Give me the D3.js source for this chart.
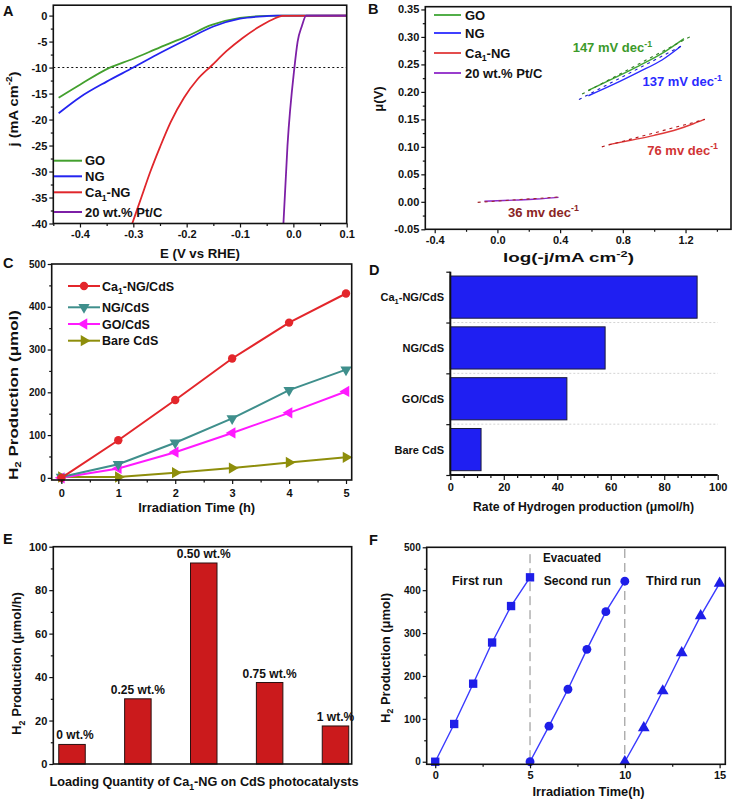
<!DOCTYPE html>
<html><head><meta charset="utf-8">
<script src="https://cdn.jsdelivr.net/npm/d3@7"></script>
<style>
body{margin:0;background:#fff}
svg text{font-family:"Liberation Sans",Arial,Helvetica,sans-serif;}
</style></head><body>
<svg id="fig" width="736" height="800"></svg>
<script>
// ================= DATA =================
// Panel A: polarization curves (E vs RHE, j in mA cm-2)
const lsvNames = ["GO", "NG", "Ca1-NG", "20 wt.% Pt/C"];
const lsvGO_E  = [-0.44, -0.40, -0.346, -0.30, -0.25, -0.20, -0.153, -0.10, -0.05, -0.02, 0.10];
const lsvGO_j  = [-15.8, -13.3, -10.1, -8.3, -6.1, -4.0, -1.8, -0.45, -0.05, 0, 0];
const lsvNG_E  = [-0.44, -0.40, -0.35, -0.30, -0.25, -0.20, -0.15, -0.10, -0.05, -0.03, 0.10];
const lsvNG_j  = [-18.8, -15.7, -12.7, -10.0, -7.2, -4.6, -2.1, -0.6, -0.1, 0, 0];
const lsvCa_E  = [-0.302, -0.285, -0.268, -0.25, -0.23, -0.205, -0.18, -0.153, -0.125, -0.095, -0.065, -0.04, -0.02, 0.10];
const lsvCa_j  = [-40, -35, -30, -25.3, -20.5, -15.8, -12.3, -9.6, -6.8, -4.3, -2.2, -0.8, -0.05, 0];
const lsvPt_E  = [-0.0186, -0.011, 0.002, 0.008, 0.016, 0.024, 0.10];
const lsvPt_j  = [-40, -25, -10, -5, -2, 0, 0];
const lsvRef   = -10;
const aTicksX = [-0.4, -0.3, -0.2, -0.1, 0.0, 0.1];
const aTicksY = [0, -5, -10, -15, -20, -25, -30, -35, -40];

// Panel B: Tafel plots (log(-j), overpotential)
const tafGO_x = [0.58, 0.75, 0.90, 1.05, 1.19];
const tafGO_y = [0.203, 0.226, 0.247, 0.270, 0.297];
const tafNG_x = [0.58, 0.75, 0.90, 1.05, 1.17];
const tafNG_y = [0.193, 0.215, 0.236, 0.258, 0.283];
const tafCa_x = [0.71, 0.85, 1.00, 1.15, 1.25, 1.32];
const tafCa_y = [0.104, 0.112, 0.121, 0.132, 0.142, 0.150];
const tafPt_x = [-0.083, 0.10, 0.25, 0.39];
const tafPt_y = [0.001, 0.003, 0.005, 0.008];
const fitGO_x = [0.54, 1.24],  fitGO_y = [0.196, 0.302];
const fitNG_x = [0.52, 1.19],  fitNG_y = [0.186, 0.286];
const fitCa_x = [0.666, 1.324], fitCa_y = [0.100, 0.150];
const fitPt_x = [-0.126, 0.40], fitPt_y = [-0.001, 0.009];
const tafelSlopes = ["147 mV dec", "137 mV dec", "76 mv dec", "36 mv dec"];
const bTicksX = [-0.4, 0.0, 0.4, 0.8, 1.2];
const bTicksY = [-0.05, 0.00, 0.05, 0.10, 0.15, 0.20, 0.25, 0.30, 0.35];

// Panel C: H2 production vs time
const cTime = [0, 1, 2, 3, 4, 5];
const cCaNG = [0, 88, 182, 279, 363, 431];
const cNG   = [2, 32, 82, 139, 205, 253];
const cGO   = [0, 22, 60, 105, 152, 202];
const cBare = [2, 2, 12, 23, 36, 48];
const cNames = ["Ca1-NG/CdS", "NG/CdS", "GO/CdS", "Bare CdS"];
const cTicksY = [0, 100, 200, 300, 400, 500];

// Panel D: rate of H2 production
const dCats = ["Ca1-NG/CdS", "NG/CdS", "GO/CdS", "Bare CdS"];
const dRates = [92.3, 57.9, 43.6, 11.5];
const dTicksX = [0, 20, 40, 60, 80, 100];

// Panel E: loading quantity
const eCats = ["0 wt.%", "0.25 wt.%", "0.50 wt.%", "0.75 wt.%", "1 wt.%"];
const eRates = [9, 30, 92.5, 37.5, 17.5];
const eTicksY = [0, 20, 40, 60, 80, 100];

// Panel F: cycling runs
const fRun1_t = [0, 1, 2, 3, 4, 5],       fRun1_v = [0, 88, 182, 278, 363, 430];
const fRun2_t = [5, 6, 7, 8, 9, 10],      fRun2_v = [0, 83, 169, 262, 350, 421];
const fRun3_t = [10, 11, 12, 13, 14, 15], fRun3_v = [0, 79, 165, 254, 340, 416];
const fRunNames = ["First run", "Second run", "Third run"];
const fBreaks = [5, 10];
const fTicksX = [0, 5, 10, 15];
const fTicksY = [0, 100, 200, 300, 400, 500];

// ================= HELPERS =================
const svg = d3.select('#fig');
const zip = (xs, ys) => xs.map((x, i) => [x, ys[i]]);

function rich(t, parts, fs) {
  let shift = 0;
  parts.forEach(p => {
    const [txt, k] = Array.isArray(p) ? p : [p, ''];
    const target = k === 'sup' ? -0.42 * fs : k === 'sub' ? 0.3 * fs : 0;
    const ts = t.append('tspan').text(txt).attr('dy', target - shift);
    if (k) ts.attr('font-size', fs * 0.68);
    shift = target;
  });
}
function label(g, x, y, parts, o = {}) {
  const fs = o.fs || 12;
  const t = g.append('text').attr('font-size', fs).attr('fill', o.color || '#111')
    .attr('font-weight', o.weight || 'bold').attr('text-anchor', o.anchor || 'middle');
  if (o.rotate) t.attr('transform', `translate(${x},${y}) rotate(-90)`);
  else t.attr('x', x).attr('y', y);
  rich(t, typeof parts === 'string' ? [parts] : parts, fs);
  if (o.len) t.attr('textLength', o.len).attr('lengthAdjust', 'spacingAndGlyphs');
  return t;
}
function drawAxis(g, gen, tr, fs = 11) {
  const a = g.append('g').attr('transform', tr).call(gen);
  a.select('.domain').remove();
  a.selectAll('line').attr('stroke', '#111').attr('stroke-width', 1.2);
  a.selectAll('text').attr('font-size', fs).attr('font-weight', 'bold').attr('fill', '#111')
    .attr('font-family', '"Liberation Sans",Arial,sans-serif');
  return a;
}
function frame(g, x, y) {
  g.append('rect').attr('x', x.range()[0]).attr('y', y.range()[1])
    .attr('width', x.range()[1] - x.range()[0]).attr('height', y.range()[0] - y.range()[1])
    .attr('fill', 'none').attr('stroke', '#111').attr('stroke-width', 1.6);
}
function mids(ticks) { const m = []; for (let i = 0; i < ticks.length - 1; i++) m.push((ticks[i] + ticks[i + 1]) / 2); return m; }
function clip(id, x, y) {
  svg.append('clipPath').attr('id', id).append('rect')
    .attr('x', x.range()[0]).attr('y', y.range()[1])
    .attr('width', x.range()[1] - x.range()[0]).attr('height', y.range()[0] - y.range()[1]);
}
function sym(g, type, x, y, size, rot, fill) {
  g.append('path').attr('d', d3.symbol().type(type).size(size)())
    .attr('transform', `translate(${x},${y}) rotate(${rot})`).attr('fill', fill);
}
const f1 = d => d.toFixed(1), f2 = d => d.toFixed(2), f0 = d => String(d);

// ================= PANEL A =================
{
  const g = svg.append('g');
  const x = d3.scaleLinear().domain([-0.45, 0.1]).range([53.3, 346.7]);
  const y = d3.scaleLinear().domain([-40, 2]).range([223.5, 5.2]);
  clip('clipA', x, y);
  const pg = g.append('g').attr('clip-path', 'url(#clipA)');
  pg.append('line').attr('x1', x.range()[0]).attr('x2', x.range()[1]).attr('y1', y(lsvRef)).attr('y2', y(lsvRef))
    .attr('stroke', '#111').attr('stroke-width', 1.1).attr('stroke-dasharray', '2,2.5');
  const line = d3.line().x(d => x(d[0])).y(d => y(d[1])).curve(d3.curveMonotoneX);
  const series = [[lsvGO_E, lsvGO_j, '#43a02e'], [lsvNG_E, lsvNG_j, '#2424f0'], [lsvCa_E, lsvCa_j, '#e0262b'], [lsvPt_E, lsvPt_j, '#7d1fa6']];
  series.forEach(([xs, ys, c]) => pg.append('path').attr('d', line(zip(xs, ys))).attr('fill', 'none').attr('stroke', c).attr('stroke-width', 1.8));
  frame(g, x, y);
  drawAxis(g, d3.axisLeft(y).tickValues(aTicksY).tickSize(4).tickPadding(2).tickFormat(f0), `translate(${x.range()[0]},0)`);
  drawAxis(g, d3.axisLeft(y).tickValues(mids(aTicksY)).tickSize(2.5).tickFormat(''), `translate(${x.range()[0]},0)`);
  drawAxis(g, d3.axisBottom(x).tickValues(aTicksX).tickSize(4).tickPadding(3).tickFormat(f1), `translate(0,${y.range()[0]})`);
  drawAxis(g, d3.axisBottom(x).tickValues(mids(aTicksX).concat([-0.45])).tickSize(2.5).tickFormat(''), `translate(0,${y.range()[0]})`);
  // legend
  const ly = [160.7, 176.3, 192.3, 212];
  const lnames = [["GO"], ["NG"], ["Ca", ["1", "sub"], "-NG"], ["20 wt.% Pt/C"]];
  series.forEach((s, i) => {
    g.append('line').attr('x1', 54).attr('x2', 82).attr('y1', ly[i]).attr('y2', ly[i]).attr('stroke', s[2]).attr('stroke-width', 2);
    label(g, 85, ly[i] + 4.5, lnames[i], { fs: 13, anchor: 'start' });
  });
  label(g, 200, 257.5, "E (V vs RHE)", { fs: 13, len: 80 });
  label(g, 17.5, 109, ["j (mA cm", ["-2", "sup"], ")"], { fs: 13, rotate: true, len: 75 });
  label(g, 3, 15.5, "A", { fs: 14.5, anchor: 'start' });
}

// ================= PANEL B =================
{
  const g = svg.append('g');
  const x = d3.scaleLinear().domain([-0.46, 1.49]).range([425.3, 731]);
  const y = d3.scaleLinear().domain([-0.05, 0.355]).range([229.3, 6.7]);
  clip('clipB', x, y);
  const pg = g.append('g').attr('clip-path', 'url(#clipB)');
  const line = d3.line().x(d => x(d[0])).y(d => y(d[1])).curve(d3.curveMonotoneX);
  const fits = [[fitGO_x, fitGO_y, '#2f7d22'], [fitNG_x, fitNG_y, '#1d1dc8'], [fitCa_x, fitCa_y, '#b3191c'], [fitPt_x, fitPt_y, '#a3282a']];
  const data = [[tafGO_x, tafGO_y, '#3fa535'], [tafNG_x, tafNG_y, '#2b2bff'], [tafCa_x, tafCa_y, '#e03a3a'], [tafPt_x, tafPt_y, '#8e28c8']];
  data.forEach(([xs, ys, c]) => pg.append('path').attr('d', line(zip(xs, ys))).attr('fill', 'none').attr('stroke', c).attr('stroke-width', 1.4));
  fits.forEach(([xs, ys, c]) => pg.append('path').attr('d', line(zip(xs, ys))).attr('fill', 'none').attr('stroke', c).attr('stroke-width', 1.1).attr('stroke-dasharray', '3,4'));
  frame(g, x, y);
  drawAxis(g, d3.axisLeft(y).tickValues(bTicksY).tickSize(4).tickPadding(2).tickFormat(f2), `translate(${x.range()[0]},0)`);
  drawAxis(g, d3.axisLeft(y).tickValues(mids(bTicksY)).tickSize(2.5).tickFormat(''), `translate(${x.range()[0]},0)`);
  drawAxis(g, d3.axisBottom(x).tickValues(bTicksX).tickSize(4).tickPadding(3).tickFormat(f1), `translate(0,${y.range()[0]})`);
  drawAxis(g, d3.axisBottom(x).tickValues(mids(bTicksX).concat([1.4])).tickSize(2.5).tickFormat(''), `translate(0,${y.range()[0]})`);
  const ly = [15, 33, 53, 73];
  const lnames = [["GO"], ["NG"], ["Ca", ["1", "sub"], "-NG"], ["20 wt.% Pt/C"]];
  data.forEach((s, i) => {
    g.append('line').attr('x1', 434).attr('x2', 461).attr('y1', ly[i]).attr('y2', ly[i]).attr('stroke', s[2]).attr('stroke-width', 1.8);
    label(g, 465, ly[i] + 4.5, lnames[i], { fs: 13, anchor: 'start' });
  });
  // slope annotations
  const ann = [[0.48, 0.280, '#3c9a2a'], [0.925, 0.218, '#2a2aff'], [0.956, 0.094, '#d13434'], [0.068, -0.019, '#8a2424']];
  ann.forEach(([ax, ay, c], i) => label(g, x(ax), y(ay) + 4.5, [tafelSlopes[i], ["-1", "sup"]], { fs: 13, anchor: 'start', color: c }));
  label(g, 568.5, 262, ["log(-j/mA cm", ["-2", "sup"], ")"], { fs: 12.5, len: 131 });
  label(g, 382.5, 99, "μ(V)", { fs: 13, rotate: true });
  label(g, 368, 14, "B", { fs: 14.5, anchor: 'start' });
}

// ================= PANEL C =================
{
  const g = svg.append('g');
  const x = d3.scaleLinear().domain([-0.17, 5.1]).range([51.7, 351.7]);
  const y = d3.scaleLinear().domain([-5, 500]).range([480, 264]);
  const line = d3.line().x(d => x(d[0])).y(d => y(d[1]));
  const series = [
    [cCaNG, '#e3262b', d3.symbolCircle, 0, 55],
    [cNG, '#3f8f8c', d3.symbolTriangle, 180, 55],
    [cGO, '#ff1aff', d3.symbolTriangle, -90, 55],
    [cBare, '#8e8e0b', d3.symbolTriangle, 90, 55]
  ];
  series.slice().reverse().forEach(([vals, c, st, rot, sz]) => {
    g.append('path').attr('d', line(zip(cTime, vals))).attr('fill', 'none').attr('stroke', c).attr('stroke-width', 2);
    cTime.forEach((t, i) => sym(g, st, x(t), y(vals[i]), sz, rot, c));
  });
  frame(g, x, y);
  drawAxis(g, d3.axisLeft(y).tickValues(cTicksY).tickSize(4).tickPadding(2).tickFormat(f0), `translate(${x.range()[0]},0)`, 10);
  drawAxis(g, d3.axisLeft(y).tickValues(mids(cTicksY)).tickSize(2.5).tickFormat(''), `translate(${x.range()[0]},0)`);
  drawAxis(g, d3.axisBottom(x).tickValues(cTime).tickSize(4).tickPadding(5).tickFormat(f0), `translate(0,${y.range()[0]})`);
  drawAxis(g, d3.axisBottom(x).tickValues(mids(cTime)).tickSize(2.5).tickFormat(''), `translate(0,${y.range()[0]})`);
  const ly = [286, 307.3, 324, 340.7];
  const lnames = [["Ca", ["1", "sub"], "-NG/CdS"], ["NG/CdS"], ["GO/CdS"], ["Bare CdS"]];
  series.forEach(([vals, c, st, rot, sz], i) => {
    g.append('line').attr('x1', 68).attr('x2', 100).attr('y1', ly[i]).attr('y2', ly[i]).attr('stroke', c).attr('stroke-width', 2);
    sym(g, st, 84, ly[i], sz, rot, c);
    label(g, 102, ly[i] + 4.5, lnames[i], { fs: 12.5, anchor: 'start' });
  });
  label(g, 196.7, 512, "Irradiation Time (h)", { fs: 12.5, len: 117 });
  label(g, 17.5, 395, [["H"], ["2", "sub"], " Production (μmol)"], { fs: 13, rotate: true, len: 170 });
  label(g, 3, 268, "C", { fs: 14.5, anchor: 'start' });
}

// ================= PANEL D =================
{
  const g = svg.append('g');
  const x = d3.scaleLinear().domain([0, 100]).range([450.3, 717.7]);
  const y = d3.scaleBand().domain(dCats).range([271.7, 475]).paddingInner(0.17).paddingOuter(0.085);
  const bounds = d3.range(1, dCats.length).map(i => y.range()[0] + i * y.step());
  bounds.forEach(b => g.append('line').attr('x1', x(0) + 3).attr('x2', x(100)).attr('y1', b).attr('y2', b)
    .attr('stroke', '#cfcfcf').attr('stroke-width', 0.9).attr('stroke-dasharray', '2,2'));
  g.selectAll('rect.bar').data(dCats).join('rect').attr('class', 'bar')
    .attr('x', x(0)).attr('y', d => y(d)).attr('height', y.bandwidth())
    .attr('width', (d, i) => x(dRates[i]) - x(0))
    .attr('fill', '#1f1ff2').attr('stroke', '#1a1a3a').attr('stroke-width', 1);
  // axes lines
  g.append('line').attr('x1', x(0)).attr('x2', x(0)).attr('y1', y.range()[0]).attr('y2', y.range()[1]).attr('stroke', '#111').attr('stroke-width', 2);
  g.append('line').attr('x1', x(0)).attr('x2', x(100)).attr('y1', y.range()[1]).attr('y2', y.range()[1]).attr('stroke', '#111').attr('stroke-width', 2);
  const yb = d3.scaleLinear().domain([0, dCats.length]).range([y.range()[0], y.range()[1]]);
  drawAxis(g, d3.axisLeft(yb).tickValues(d3.range(0, dCats.length + 1)).tickSize(4).tickFormat(''), `translate(${x(0)},0)`);
  drawAxis(g, d3.axisBottom(x).tickValues(dTicksX).tickSize(5).tickPadding(3).tickFormat(f0), `translate(0,${y.range()[1]})`);
  drawAxis(g, d3.axisBottom(x).tickValues(d3.range(5, 100, 5).filter(v => v % 20)).tickSize(3).tickFormat(''), `translate(0,${y.range()[1]})`);
  const names = [["Ca", ["1", "sub"], "-NG/CdS"], ["NG/CdS"], ["GO/CdS"], ["Bare CdS"]];
  dCats.forEach((c, i) => label(g, 444, y(c) + y.bandwidth() / 2 + 4, names[i], { fs: 11 , anchor: 'end' }));
  label(g, 583.5, 511, "Rate of Hydrogen production (μmol/h)", { fs: 12, len: 221 });
  label(g, 369, 275, "D", { fs: 14.5, anchor: 'start' });
}

// ================= PANEL E =================
{
  const g = svg.append('g');
  const x = d3.scalePoint().domain(eCats).range([72, 335.5]);
  const y = d3.scaleLinear().domain([0, 100]).range([764, 546.7]);
  const bw = 26.5;
  g.selectAll('rect.bar').data(eCats).join('rect').attr('class', 'bar')
    .attr('x', d => x(d) - bw / 2).attr('width', bw)
    .attr('y', (d, i) => y(eRates[i])).attr('height', (d, i) => y(0) - y(eRates[i]))
    .attr('fill', '#cb1a1c').attr('stroke', '#2a1010').attr('stroke-width', 1);
  eCats.forEach((c, i) => label(g, x(c) + (i === 0 ? 3 : 0), y(eRates[i]) - 5, c, { fs: 12 }));
  g.append('rect').attr('x', 53.3).attr('y', 546.7).attr('width', 351.7 - 53.3).attr('height', 764 - 546.7)
    .attr('fill', 'none').attr('stroke', '#111').attr('stroke-width', 1.6);
  drawAxis(g, d3.axisLeft(y).tickValues(eTicksY).tickSize(4).tickPadding(2).tickFormat(f0), `translate(53.3,0)`);
  drawAxis(g, d3.axisLeft(y).tickValues(mids(eTicksY)).tickSize(2.5).tickFormat(''), `translate(53.3,0)`);
  label(g, 204, 786, ["Loading Quantity of Ca", ["1", "sub"], "-NG on CdS photocatalysts"], { fs: 12, len: 309 });
  label(g, 21, 663.5, [["H"], ["2", "sub"], " Production ", ["(μmol/h)"]], { fs: 13, rotate: true, len: 143 });
  label(g, 3, 544, "E", { fs: 14.5, anchor: 'start' });
}

// ================= PANEL F =================
{
  const g = svg.append('g');
  const x = d3.scaleLinear().domain([-0.45, 15.3]).range([426.7, 725.3]);
  const y = d3.scaleLinear().domain([-6, 500]).range([764.3, 547.3]);
  fBreaks.forEach(b => g.append('line').attr('x1', x(b)).attr('x2', x(b)).attr('y1', y(b === 5 ? 484 : 496)).attr('y2', y.range()[0])
    .attr('stroke', '#8a8a8a').attr('stroke-width', 1).attr('stroke-dasharray', '9,5'));
  const line = d3.line().x(d => x(d[0])).y(d => y(d[1]));
  const runs = [[fRun1_t, fRun1_v, d3.symbolSquare, 70], [fRun2_t, fRun2_v, d3.symbolCircle, 62], [fRun3_t, fRun3_v, d3.symbolTriangle, 60]];
  runs.forEach(([ts, vs, st, sz]) => {
    g.append('path').attr('d', line(zip(ts, vs))).attr('fill', 'none').attr('stroke', '#3a3aff').attr('stroke-width', 1.4);
    ts.forEach((t, i) => sym(g, st, x(t), y(vs[i]), sz, 0, '#1e1ee8'));
  });
  frame(g, x, y);
  drawAxis(g, d3.axisLeft(y).tickValues(fTicksY).tickSize(4).tickPadding(2).tickFormat(f0), `translate(${x.range()[0]},0)`, 10);
  drawAxis(g, d3.axisLeft(y).tickValues(mids(fTicksY)).tickSize(2.5).tickFormat(''), `translate(${x.range()[0]},0)`);
  drawAxis(g, d3.axisBottom(x).tickValues(fTicksX).tickSize(4).tickPadding(3).tickFormat(f0), `translate(0,${y.range()[0]})`);
  drawAxis(g, d3.axisBottom(x).tickValues(mids(fTicksX)).tickSize(2.5).tickFormat(''), `translate(0,${y.range()[0]})`);
  label(g, 572, 561.5, "Evacuated", { fs: 12, len: 58 });
  const rx = [477.3, 577.3, 673.5];
  fRunNames.forEach((n, i) => label(g, rx[i], 584.5, n, { fs: 12.5, len: [50.7, 67.3, 55][i] }));
  label(g, 588.5, 796, "Irradiation Time(h)", { fs: 12.5, len: 112 });
  label(g, 389.5, 658, [["H"], ["2", "sub"], " Production (μmol)"], { fs: 13, rotate: true, len: 130 });
  label(g, 369, 545, "F", { fs: 14.5, anchor: 'start' });
}
</script></body></html>
